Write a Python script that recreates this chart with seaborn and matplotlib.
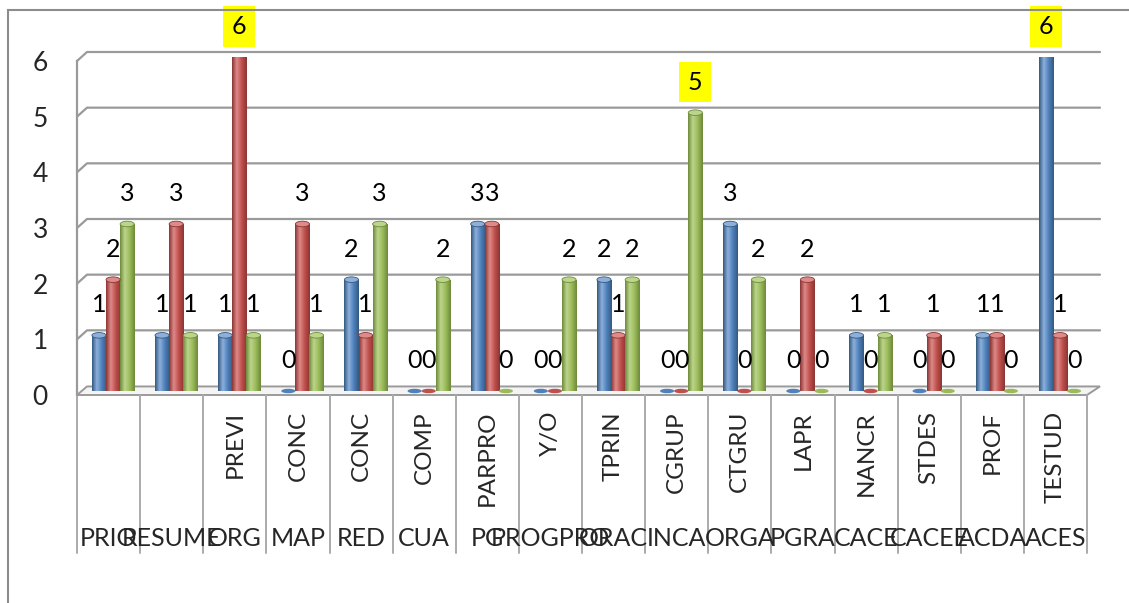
import numpy as np
import pandas as pd
import seaborn as sns
import matplotlib.pyplot as plt
from matplotlib.colors import LinearSegmentedColormap
from matplotlib.patches import Ellipse, Polygon, Rectangle
from matplotlib.transforms import ScaledTranslation

# data
categories = ['PRIO', 'RESUME', 'ORG', 'MAP', 'RED', 'CUA', 'PG', 'PROGPRO',
              'ORAC', 'INCA', 'ORGA', 'PGRA', 'CACE', 'CACEE', 'ACDA', 'ACES']
subcategories = ['', '', 'PREVI', 'CONC', 'CONC', 'COMP', 'PARPRO', 'Y/O',
                 'TPRIN', 'CGRUP', 'CTGRU', 'LAPR', 'NANCR', 'STDES', 'PROF', 'TESTUD']
series_names = ['Serie 1', 'Serie 2', 'Serie 3']
blue_vals = [1, 1, 1, 0, 2, 0, 3, 0, 2, 0, 3, 0, 1, 0, 1, 6]
red_vals = [2, 3, 6, 3, 1, 0, 3, 0, 1, 0, 0, 2, 0, 1, 1, 1]
green_vals = [3, 1, 1, 1, 3, 2, 0, 2, 2, 5, 2, 0, 1, 0, 0, 0]
y_ticks = [0, 1, 2, 3, 4, 5, 6]

base_colors = ['#4F81BD', '#C0504D', '#9BBB59']
dark_colors = ['#34597F', '#8A3533', '#6E8A3A']
light_colors = ['#8DB0DB', '#DE8A88', '#BCD58C']
grid_col = '#9A9A9A'

W, H = 1129, 603
sns.set_style('white')
plt.rcParams['font.family'] = ['Lato', 'DejaVu Sans']

fig = plt.figure(figsize=(W / 100, H / 100), dpi=100)
ax = fig.add_axes([77 / W, 1 - 395 / H, 1010 / W, 334 / H])

df = pd.DataFrame({
    'cat': categories * 3,
    'serie': np.repeat(series_names, len(categories)),
    'value': blue_vals + red_vals + green_vals,
})
sns.barplot(data=df, x='cat', y='value', hue='serie', palette=base_colors,
            width=0.67, gap=0, saturation=1, errorbar=None, legend=False,
            linewidth=0, ax=ax, zorder=3)

ax.set_xlim(-0.5, 15.5)
ax.set_ylim(0, 6)

# pixel -> data helpers (layout only)
ux = 1010 / 16
uy = 334 / 6
dx, dy = 10 / ux, 9 / uy
x_left, x_right_front, x_right_back = -0.5, 15.5, -0.5 + (1100 - 77) / ux

# back-wall gridlines with the 3D diagonal at the left
for v in y_ticks[1:]:
    ax.plot([x_left, x_left + dx, x_right_back], [v, v + dy, v + dy],
            color=grid_col, lw=1.6, clip_on=False, zorder=1)

# floor
floor = Polygon([(x_left, 0), (x_right_front, 0), (x_right_back, dy * 0.95),
                 (x_left + dx, dy * 0.95)], closed=True, fc='#F4F4F4',
                ec=grid_col, lw=1.4, clip_on=False, zorder=2)
ax.add_patch(floor)

# cylinder look for the bars
shift = ScaledTranslation(4.5 / 100, 4 / 100, fig.dpi_scale_trans)
tr = ax.transData + shift
grad = np.linspace(0, 1, 64).reshape(1, -1)
all_vals = [blue_vals, red_vals, green_vals]
for i, cont in enumerate(ax.containers):
    cmap = LinearSegmentedColormap.from_list(
        f'cyl{i}', [(0, dark_colors[i]), (0.32, light_colors[i]),
                    (0.65, base_colors[i]), (1, dark_colors[i])])
    for p, v in zip(cont.patches, all_vals[i]):
        p.set_transform(tr)
        x0, w = p.get_x(), p.get_width()
        xc = x0 + w / 2
        if v > 0:
            im = ax.imshow(grad, extent=[x0, x0 + w, 0, v], cmap=cmap,
                           aspect='auto', interpolation='bilinear', zorder=3)
            im.set_transform(tr)
            im.set_clip_path(p)
            top = Ellipse((xc, v), w, 0.1, fc=light_colors[i], ec=dark_colors[i],
                          lw=0.6, transform=tr, zorder=4)
        else:
            top = Ellipse((xc, 0), w, 0.08, fc=base_colors[i], ec='none',
                          transform=tr, zorder=4)
        ax.add_patch(top)
        box = dict(boxstyle='square,pad=0.35', fc='#FFFF00', ec='none') if v >= 5 else None
        ax.text(xc, v + 0.55, str(v), transform=tr, ha='center', va='center',
                fontsize=18, color='black', bbox=box, zorder=6)

ax.set_xlim(-0.5, 15.5)
ax.set_ylim(0, 6)

# axes styling
for s in ['top', 'right', 'bottom']:
    ax.spines[s].set_visible(False)
ax.spines['left'].set_color(grid_col)
ax.spines['left'].set_linewidth(1.6)
ax.set_yticks(y_ticks)
ax.tick_params(axis='y', length=9, width=1.6, color=grid_col, direction='out',
               labelsize=19, pad=12)
ax.set_xticks([])
ax.set_xlabel('')
ax.set_ylabel('')
ax.patch.set_alpha(0)

# category table below the floor
y_div_bottom = -(553 - 395) / uy
for k in range(len(categories) + 1):
    ax.plot([k - 0.5, k - 0.5], [0, y_div_bottom], color='#AAAAAA', lw=1.4,
            clip_on=False, zorder=2)
for k, (cat, sub) in enumerate(zip(categories, subcategories)):
    if sub:
        ax.text(k, -(411 - 395) / uy, sub, rotation=90, ha='center', va='top',
                fontsize=17.5, clip_on=False)
    ax.text(k, -(538 - 395) / uy, cat, ha='center', va='center',
            fontsize=18, clip_on=False)

# chart area border (only top and left visible in the crop)
fig.patches.append(Rectangle((8 / W, -0.2), 1.5, 1.2 - 10 / H,
                             transform=fig.transFigure, fill=False,
                             ec='#8C8C8C', lw=1.5, figure=fig))

fig.savefig('out.png', dpi=100)
